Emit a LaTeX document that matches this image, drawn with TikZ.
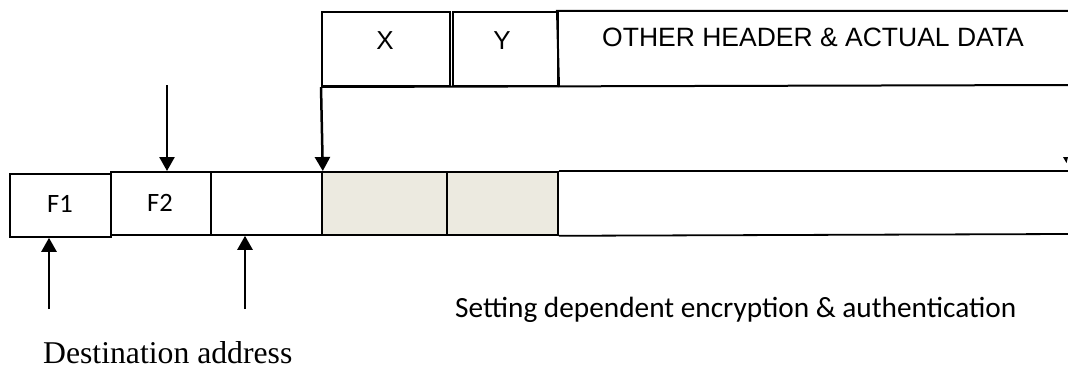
\documentclass[tikz,border=0pt]{standalone}
\usepackage{fontspec}
\newfontfamily\arialf{Liberation Sans}
\newfontfamily\calf{Carlito}
\newfontfamily\timesf{Liberation Serif}
\usetikzlibrary{arrows.meta}
\definecolor{shadefill}{HTML}{ECEAE0}
\begin{document}
\begin{tikzpicture}[x=1pt,y=-1pt,
  topbox/.style={draw=black, line width=2pt, inner sep=0pt, anchor=north west, minimum height=74pt},
  rowbox/.style={draw=black, line width=1.8pt, inner sep=0pt, anchor=north west, minimum height=63pt},
  shaded/.style={rowbox, fill=shadefill},
  edge/.style={line width=2pt},
  arr/.style={line width=2.5pt, -{Triangle[length=14pt,width=15pt]}},
  toptext/.style={anchor=base, inner sep=0pt, font=\arialf\fontsize{26}{30}\selectfont},
  ftext/.style={anchor=base, inner sep=0pt, font=\calf\fontsize{26.5}{30}\selectfont}]
\useasboundingbox (0,0) rectangle (1068,369);

% top row
\node[topbox, minimum width=128pt] (bx) at (321,11) {};
\node[topbox, minimum width=105pt] (by) at (452,11) {};
\coordinate (otl) at (557,11);
\coordinate (otr) at (1068,11);
\coordinate (obr) at (1068,85);
\draw[edge] (otr) -- (otl) -- (by.south east);
\draw[edge] (bx.south west) -- (obr);
\node[toptext] (tx) at (385,50) {X};
\node[toptext] (ty) at (502,50) {Y};
\node[toptext, anchor=base west, font=\arialf\fontsize{26.5}{30}\selectfont] (tother) at (602,47) {OTHER HEADER \& ACTUAL DATA};

% small cut-off mark
\coordinate (m1) at (1063,157);
\coordinate (m2) at (1068,157);
\coordinate (m3) at (1066.5,163);
\fill (m1) -- (m2) -- (m3) -- cycle;

% middle row
\node[rowbox, minimum width=101pt] (f1) at (9,173) {};
\node[rowbox, minimum width=100pt] (f2) at (110,171) {};
\node[rowbox, minimum width=111pt] (f3) at (210,171) {};
\node[shaded, minimum width=125pt] (s1) at (321,171) {};
\node[shaded, minimum width=111pt] (s2) at (446,171) {};
\coordinate (rtr) at (1068,171);
\coordinate (rbr) at (1068,234);
\draw[line width=1.8pt] (s2.north east) -- (rtr);
\draw[line width=1.8pt] (s2.south east) -- (rbr);
\node[ftext] (tf1) at (60,212) {F1};
\node[ftext] (tf2) at (160,211) {F2};

% arrows
\coordinate (a2) at (167,85);
\draw[arr] (a2) -- (a2 |- f2.north);
\draw[arr] (bx.south west) -- (f3.north east);
\coordinate (u1) at (49,309);
\coordinate (u2) at (245,309);
\draw[arr] (u1) -- (u1 |- f1.south);
\draw[arr] (u2) -- (u2 |- f3.south);

% captions
\node[anchor=base west, inner sep=0pt, font=\calf\fontsize{29.3}{33}\selectfont] (set) at (455,317) {Setting dependent encryption \& authentication};
\node[anchor=base west, inner sep=0pt, font=\timesf\fontsize{31.7}{35}\selectfont] (dst) at (43,363) {Destination address};
\end{tikzpicture}
\end{document}
